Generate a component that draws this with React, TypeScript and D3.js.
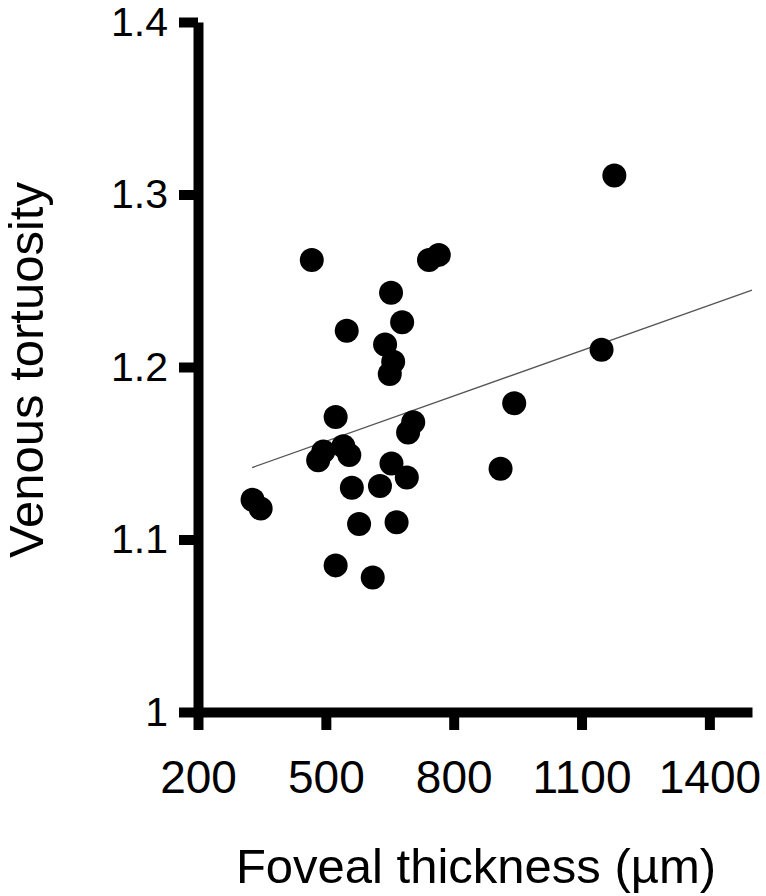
import React, { useEffect, useRef } from 'react';
import * as d3 from 'd3';

// foveal thickness (µm) vs venous tortuosity
const thickness = [
  1177, 467, 742, 765, 653, 679, 549, 639, 658, 650,
  1147, 523, 705, 693, 942, 494, 482, 541, 555, 654,
  690, 910, 561, 627, 578, 666, 523, 610, 328, 347,
];
const tortuosity = [
  1.311, 1.262, 1.262, 1.265, 1.243, 1.226, 1.221, 1.213, 1.203, 1.196,
  1.210, 1.171, 1.168, 1.162, 1.179, 1.151, 1.146, 1.154, 1.149, 1.144,
  1.136, 1.141, 1.130, 1.131, 1.109, 1.110, 1.085, 1.078, 1.123, 1.118,
];

// regression line end points
const trendX = [327, 1500];
const trendY = [1.1417, 1.2446];

const xTicks = [200, 500, 800, 1100, 1400];
const yTicks = [1, 1.1, 1.2, 1.3, 1.4];

function App() {
  const svgRef = useRef(null);

  useEffect(() => {
    const svg = d3.select(svgRef.current);
    svg.selectAll('*').remove();

    const width = 766;
    const height = 896;
    const font = '"Liberation Sans", Arial, sans-serif';

    const x = d3.scaleLinear().domain([200, 1500]).range([198, 752]);
    const y = d3.scaleLinear().domain([1, 1.4]).range([712, 22]);

    svg.attr('width', width).attr('height', height);

    // y axis
    svg.append('g')
      .attr('transform', `translate(${x(200)},0)`)
      .call(d3.axisLeft(y).tickValues(yTicks).tickSize(19).tickSizeOuter(0).tickPadding(11)
        .tickFormat(d => String(d)))
      .call(g => g.select('.domain').attr('stroke', '#000').attr('stroke-width', 10))
      .call(g => g.selectAll('.tick line').attr('stroke', '#000').attr('stroke-width', 10))
      .call(g => g.selectAll('.tick text').attr('fill', '#000')
        .attr('font-size', 41).attr('font-family', font));

    // x axis
    svg.append('g')
      .attr('transform', `translate(0,${y(1)})`)
      .call(d3.axisBottom(x).tickValues(xTicks).tickSize(18).tickSizeOuter(0).tickPadding(30)
        .tickFormat(d => String(d)))
      .call(g => g.select('.domain').attr('stroke', '#000').attr('stroke-width', 10))
      .call(g => g.selectAll('.tick line').attr('stroke', '#000').attr('stroke-width', 10))
      .call(g => g.selectAll('.tick text').attr('fill', '#000')
        .attr('font-size', 46).attr('font-family', font));

    // trend line
    svg.append('line')
      .attr('x1', x(trendX[0])).attr('y1', y(trendY[0]))
      .attr('x2', x(trendX[1])).attr('y2', y(trendY[1]))
      .attr('stroke', '#555')
      .attr('stroke-width', 1.3);

    // points
    svg.append('g')
      .selectAll('circle')
      .data(thickness.map((t, i) => ({ t, v: tortuosity[i] })))
      .join('circle')
      .attr('cx', d => x(d.t))
      .attr('cy', d => y(d.v))
      .attr('r', 12)
      .attr('fill', '#000');

    svg.append('text')
      .attr('x', 476).attr('y', 883)
      .attr('text-anchor', 'middle')
      .attr('font-size', 49).attr('font-family', font)
      .text('Foveal thickness (µm)');

    svg.append('text')
      .attr('transform', 'translate(43,370) rotate(-90)')
      .attr('text-anchor', 'middle')
      .attr('font-size', 49).attr('font-family', font)
      .text('Venous tortuosity');
  }, []);

  return (
    <svg ref={svgRef} style={{ position: 'absolute', left: 0, top: 0, background: '#fff' }}></svg>
  );
}

export default App;
